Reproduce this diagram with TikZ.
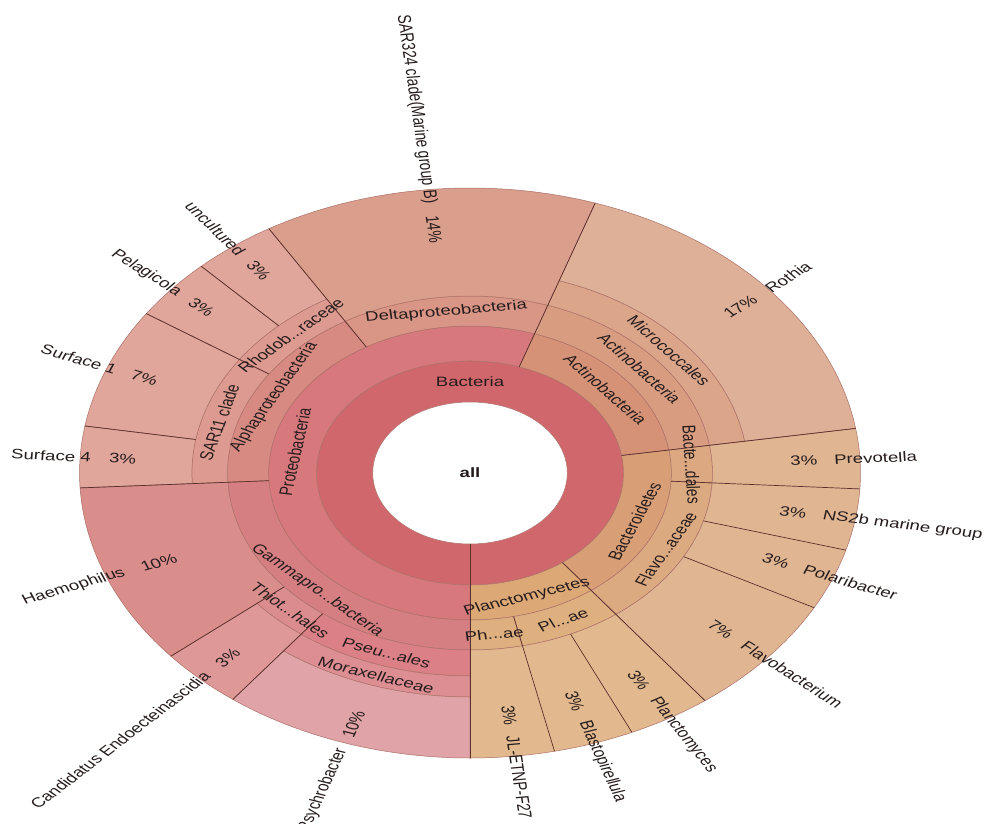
\documentclass[tikz,border=0pt]{standalone}
\usepackage{fontspec}
\setmainfont{Liberation Sans}

\definecolor{kArc}{RGB}{172,112,104}
\definecolor{kSplit}{RGB}{92,48,44}
\definecolor{kText}{RGB}{38,28,28}
\definecolor{kBacteria}{RGB}{208,103,108}
\definecolor{kProteo}{RGB}{214,120,124}
\definecolor{kActino}{RGB}{213,146,118}
\definecolor{kBactero}{RGB}{216,158,118}
\definecolor{kPlancto}{RGB}{219,168,118}
\definecolor{kActinoC}{RGB}{216,156,128}
\definecolor{kDelta}{RGB}{217,150,134}
\definecolor{kAlpha}{RGB}{214,138,130}
\definecolor{kGamma}{RGB}{214,127,130}
\definecolor{kPhyc}{RGB}{222,176,128}
\definecolor{kFlavoF}{RGB}{220,170,128}
\definecolor{kBacteroidales}{RGB}{219,168,130}
\definecolor{kMicro}{RGB}{219,165,138}
\definecolor{kRothia}{RGB}{222,176,152}
\definecolor{kSAR}{RGB}{218,158,140}
\definecolor{kRhodob}{RGB}{220,154,144}
\definecolor{kAlphaG}{RGB}{224,166,155}
\definecolor{kHaemo}{RGB}{217,142,140}
\definecolor{kThiot}{RGB}{219,140,142}
\definecolor{kCandid}{RGB}{222,152,152}
\definecolor{kPseudo}{RGB}{219,128,134}
\definecolor{kMorax}{RGB}{221,142,147}
\definecolor{kPsychro}{RGB}{224,164,168}
\definecolor{kPlanctoG}{RGB}{226,185,142}
\definecolor{kBacteroG}{RGB}{224,181,146}

\begin{document}
\begin{tikzpicture}[x=1pt, y=1pt, xscale=1.37,
    ring/.style={draw=kArc, line width=0.5pt},
    split/.style={draw=kSplit, line width=0.7pt},
    lbl/.style={font=\fontsize{13.6}{16}\selectfont, text=kText, inner sep=0pt, transform shape},
    pctR/.style={lbl, anchor=east},
    pctL/.style={lbl, anchor=west},
    nameR/.style={lbl, anchor=west},
    nameL/.style={lbl, anchor=east}]
    \useasboundingbox (-343.07,-350) rectangle (382.48,473);
    \fill[white] (-343.07,-350) rectangle (382.48,473);

    % root and kingdom
    \filldraw[ring, fill=kBacteria] (0,0) circle[radius=112];
    \filldraw[ring, fill=white] (0,0) circle[radius=71];

    % phylum ring
    \filldraw[ring, fill=kActino] (9:112) arc[start angle=9, end angle=71.3, radius=112] -- (71.3:147) arc[start angle=71.3, end angle=9, radius=147] -- cycle;
    \filldraw[ring, fill=kProteo] (71.3:112) arc[start angle=71.3, end angle=270, radius=112] -- (270:147) arc[start angle=270, end angle=71.3, radius=147] -- cycle;
    \filldraw[ring, fill=kPlancto] (-90:112) arc[start angle=-90, end angle=-53, radius=112] -- (-53:147) arc[start angle=-53, end angle=-90, radius=147] -- cycle;
    \filldraw[ring, fill=kBactero] (-53:112) arc[start angle=-53, end angle=9, radius=112] -- (9:147) arc[start angle=9, end angle=-53, radius=147] -- cycle;

    % class ring
    \filldraw[ring, fill=kActinoC] (9:147) arc[start angle=9, end angle=71.3, radius=147] -- (71.3:177) arc[start angle=71.3, end angle=9, radius=177] -- cycle;
    \filldraw[ring, fill=kDelta] (71.3:147) arc[start angle=71.3, end angle=121, radius=147] -- (121:177) arc[start angle=121, end angle=71.3, radius=177] -- cycle;
    \filldraw[ring, fill=kAlpha] (121:147) arc[start angle=121, end angle=183, radius=147] -- (183:177) arc[start angle=183, end angle=121, radius=177] -- cycle;
    \filldraw[ring, fill=kGamma] (183:147) arc[start angle=183, end angle=270, radius=147] -- (270:177) arc[start angle=270, end angle=183, radius=177] -- cycle;
    \filldraw[ring, fill=kPhyc] (-90:147) arc[start angle=-90, end angle=-77.5, radius=147] -- (-77.5:177) arc[start angle=-77.5, end angle=-90, radius=177] -- cycle;
    \filldraw[ring, fill=kPhyc] (-77.5:147) arc[start angle=-77.5, end angle=-53, radius=147] -- (-53:177) arc[start angle=-53, end angle=-77.5, radius=177] -- cycle;
    \filldraw[ring, fill=kFlavoF] (-53:147) arc[start angle=-53, end angle=-3.2, radius=147] -- (-3.2:177) arc[start angle=-3.2, end angle=-53, radius=177] -- cycle;
    \filldraw[ring, fill=kBacteroidales] (-3.2:147) arc[start angle=-3.2, end angle=9, radius=147] -- (9:177) arc[start angle=9, end angle=-3.2, radius=177] -- cycle;

    % order, family and genus
    \filldraw[ring, fill=kMicro] (9:177) arc[start angle=9, end angle=71.3, radius=177] -- (71.3:203) arc[start angle=71.3, end angle=9, radius=203] -- cycle;
    \filldraw[ring, fill=kRothia] (9:203) arc[start angle=9, end angle=71.3, radius=203] -- (71.3:285) arc[start angle=71.3, end angle=9, radius=285] -- cycle;
    \filldraw[ring, fill=kSAR] (71.3:177) arc[start angle=71.3, end angle=121, radius=177] -- (121:285) arc[start angle=121, end angle=71.3, radius=285] -- cycle;
    \filldraw[ring, fill=kRhodob] (121:177) arc[start angle=121, end angle=146, radius=177] -- (146:203) arc[start angle=146, end angle=121, radius=203] -- cycle;
    \filldraw[ring, fill=kAlphaG] (121:203) arc[start angle=121, end angle=133.5, radius=203] -- (133.5:285) arc[start angle=133.5, end angle=121, radius=285] -- cycle;
    \filldraw[ring, fill=kAlphaG] (133.5:203) arc[start angle=133.5, end angle=146, radius=203] -- (146:285) arc[start angle=146, end angle=133.5, radius=285] -- cycle;
    \filldraw[ring, fill=kRhodob] (146:177) arc[start angle=146, end angle=183, radius=177] -- (183:203) arc[start angle=183, end angle=146, radius=203] -- cycle;
    \filldraw[ring, fill=kAlphaG] (146:203) arc[start angle=146, end angle=170.5, radius=203] -- (170.5:285) arc[start angle=170.5, end angle=146, radius=285] -- cycle;
    \filldraw[ring, fill=kAlphaG] (170.5:203) arc[start angle=170.5, end angle=183, radius=203] -- (183:285) arc[start angle=183, end angle=170.5, radius=285] -- cycle;
    \filldraw[ring, fill=kHaemo] (183:177) arc[start angle=183, end angle=220, radius=177] -- (220:285) arc[start angle=220, end angle=183, radius=285] -- cycle;
    \filldraw[ring, fill=kThiot] (220:177) arc[start angle=220, end angle=232.6, radius=177] -- (232.6:203) arc[start angle=232.6, end angle=220, radius=203] -- cycle;
    \filldraw[ring, fill=kCandid] (220:203) arc[start angle=220, end angle=232.6, radius=203] -- (232.6:285) arc[start angle=232.6, end angle=220, radius=285] -- cycle;
    \filldraw[ring, fill=kPseudo] (232.6:177) arc[start angle=232.6, end angle=270, radius=177] -- (270:203) arc[start angle=270, end angle=232.6, radius=203] -- cycle;
    \filldraw[ring, fill=kMorax] (232.6:203) arc[start angle=232.6, end angle=270, radius=203] -- (270:224) arc[start angle=270, end angle=232.6, radius=224] -- cycle;
    \filldraw[ring, fill=kPsychro] (232.6:224) arc[start angle=232.6, end angle=270, radius=224] -- (270:285) arc[start angle=270, end angle=232.6, radius=285] -- cycle;
    \filldraw[ring, fill=kPlanctoG] (-90:177) arc[start angle=-90, end angle=-53, radius=177] -- (-53:285) arc[start angle=-53, end angle=-90, radius=285] -- cycle;
    \filldraw[ring, fill=kBacteroG] (-53:177) arc[start angle=-53, end angle=9, radius=177] -- (9:285) arc[start angle=9, end angle=-53, radius=285] -- cycle;

    % wedge borders
    \draw[split] (270:71) -- (270:285);
    \draw[split] (9:112) -- (9:285);
    \draw[split] (71.3:112) -- (71.3:285);
    \draw[split] (-53:112) -- (-53:285);
    \draw[split] (121:147) -- (121:285);
    \draw[split] (183:147) -- (183:285);
    \draw[split] (-77.5:147) -- (-77.5:285);
    \draw[split] (-3.2:147) -- (-3.2:285);
    \draw[split] (146:177) -- (146:285);
    \draw[split] (220:177) -- (220:285);
    \draw[split] (232.6:177) -- (232.6:285);
    \draw[split] (-65.5:177) -- (-65.5:285);
    \draw[split] (-28.2:177) -- (-28.2:285);
    \draw[split] (-15.7:177) -- (-15.7:285);
    \draw[split] (133.5:203) -- (133.5:285);
    \draw[split] (170.5:203) -- (170.5:285);

    % inner labels
    \node[lbl, font=\fontsize{13.6}{16}\selectfont\bfseries] (all) at (0,0) {all};
    \node[lbl] (bacteria) at (90:91) {Bacteria};
    \node[lbl, rotate=-49.85] (actinoP) at (40.15:129.5) {Actinobacteria};
    \node[lbl, rotate=-49.85] (actinoC) at (40.15:162) {Actinobacteria};
    \node[lbl, rotate=-49.85] (micro) at (40.15:190) {Micrococcales};
    \node[lbl, rotate=80.65] (proteo) at (170.65:129.5) {Proteobacteria};
    \node[lbl, rotate=6.15] (delta) at (96.15:162) {Deltaproteobacteria};
    \node[lbl, rotate=62] (alpha) at (152:162) {Alphaproteobacteria};
    \node[lbl, rotate=43.5] (rhodob) at (133.5:190) {Rhodob...raceae};
    \node[lbl, rotate=74.5] (sar11) at (164.5:190) {SAR11 clade};
    \node[lbl, rotate=316.5] (gamma) at (226.5:162) {Gammapro...bacteria};
    \node[lbl, rotate=316.3] (thiot) at (226.3:190) {Thiot...hales};
    \node[lbl, rotate=341.3] (pseudo) at (251.3:190) {Pseu...ales};
    \node[lbl, rotate=341.3] (morax) at (251.3:213.5) {Moraxellaceae};
    \node[lbl, rotate=68] (bactero) at (-22:129.5) {Bacteroidetes};
    \node[lbl, rotate=-87.1] (bdales) at (2.9:162) {Bacte...dales};
    \node[lbl, rotate=61.9] (flavo) at (-28.1:162) {Flavo...aceae};
    \node[lbl, rotate=18.5] (plancto) at (-71.5:131) {Planctomycetes};
    \node[lbl, rotate=6.25] (phae) at (-83.75:162) {Ph...ae};
    \node[lbl, rotate=24.75] (plae) at (-65.25:162) {Pl...ae};

    % genus labels, right half
    \node[pctR, rotate=40.15] (rothia-p) at (40.15:272) {17\%};
    \node[nameR, rotate=40.15] (rothia) at (40.15:284) {Rothia};
    \node[pctR, rotate=2.9] (prevo-p) at (2.9:254) {3\%};
    \node[nameR, rotate=2.9] (prevo) at (2.9:266) {Prevotella};
    \node[pctR, rotate=-9.45] (ns2b-p) at (-9.45:249) {3\%};
    \node[nameR, rotate=-9.45] (ns2b) at (-9.45:261) {NS2b marine group};
    \node[pctR, rotate=-21.5] (polari-p) at (-21.5:250) {3\%};
    \node[nameR, rotate=-21.5] (polari) at (-21.5:262) {Polaribacter};
    \node[pctR, rotate=-40.6] (flavob-p) at (-40.6:251) {7\%};
    \node[nameR, rotate=-40.6] (flavob) at (-40.6:263) {Flavobacterium};
    \node[pctR, rotate=-59.25] (planctm-p) at (-59.25:251) {3\%};
    \node[nameR, rotate=-59.25] (planctm) at (-59.25:262) {Planctomyces};
    \node[pctR, rotate=-71.5] (blasto-p) at (-71.5:251) {3\%};
    \node[nameR, rotate=-71.5] (blasto) at (-71.5:262) {Blastopirellula};
    \node[pctR, rotate=-83.3] (jl-p) at (-83.3:254) {3\%};
    \node[nameR, rotate=-83.3] (jl) at (-83.3:265) {JL-ETNP-F27};

    % genus labels, left half
    \node[pctL, rotate=-83.85] (sar324-p) at (96.15:259) {14\%};
    \node[nameL, rotate=-83.85] (sar324) at (96.15:271) {SAR324 clade(Marine group B)};
    \node[pctL, rotate=-52.75] (uncult-p) at (127.25:265) {3\%};
    \node[nameL, rotate=-52.75] (uncult) at (127.25:275) {uncultured};
    \node[pctL, rotate=-40.25] (pelag-p) at (139.75:267) {3\%};
    \node[nameL, rotate=-40.25] (pelag) at (139.75:278) {Pelagicola};
    \node[pctL, rotate=-21.75] (surf1-p) at (158.25:266) {7\%};
    \node[nameL, rotate=-21.75] (surf1) at (158.25:278) {Surface 1};
    \node[pctL, rotate=-3.25] (surf4-p) at (176.75:264) {3\%};
    \node[nameL, rotate=-3.25] (surf4) at (176.75:277) {Surface 4};
    \node[pctL, rotate=21.5] (haemo-p) at (201.5:258) {10\%};
    \node[nameL, rotate=21.5] (haemo) at (201.5:271) {Haemophilus};
    \node[pctL, rotate=46.3] (candid-p) at (226.3:266) {3\%};
    \node[nameL, rotate=46.3] (candid) at (226.3:278) {Candidatus Endoecteinascidia};
    \node[pctL, rotate=71.3] (psychro-p) at (251.3:279) {10\%};
    \node[nameL, rotate=71.3] (psychro) at (251.3:291) {Psychrobacter};
\end{tikzpicture}
\end{document}
